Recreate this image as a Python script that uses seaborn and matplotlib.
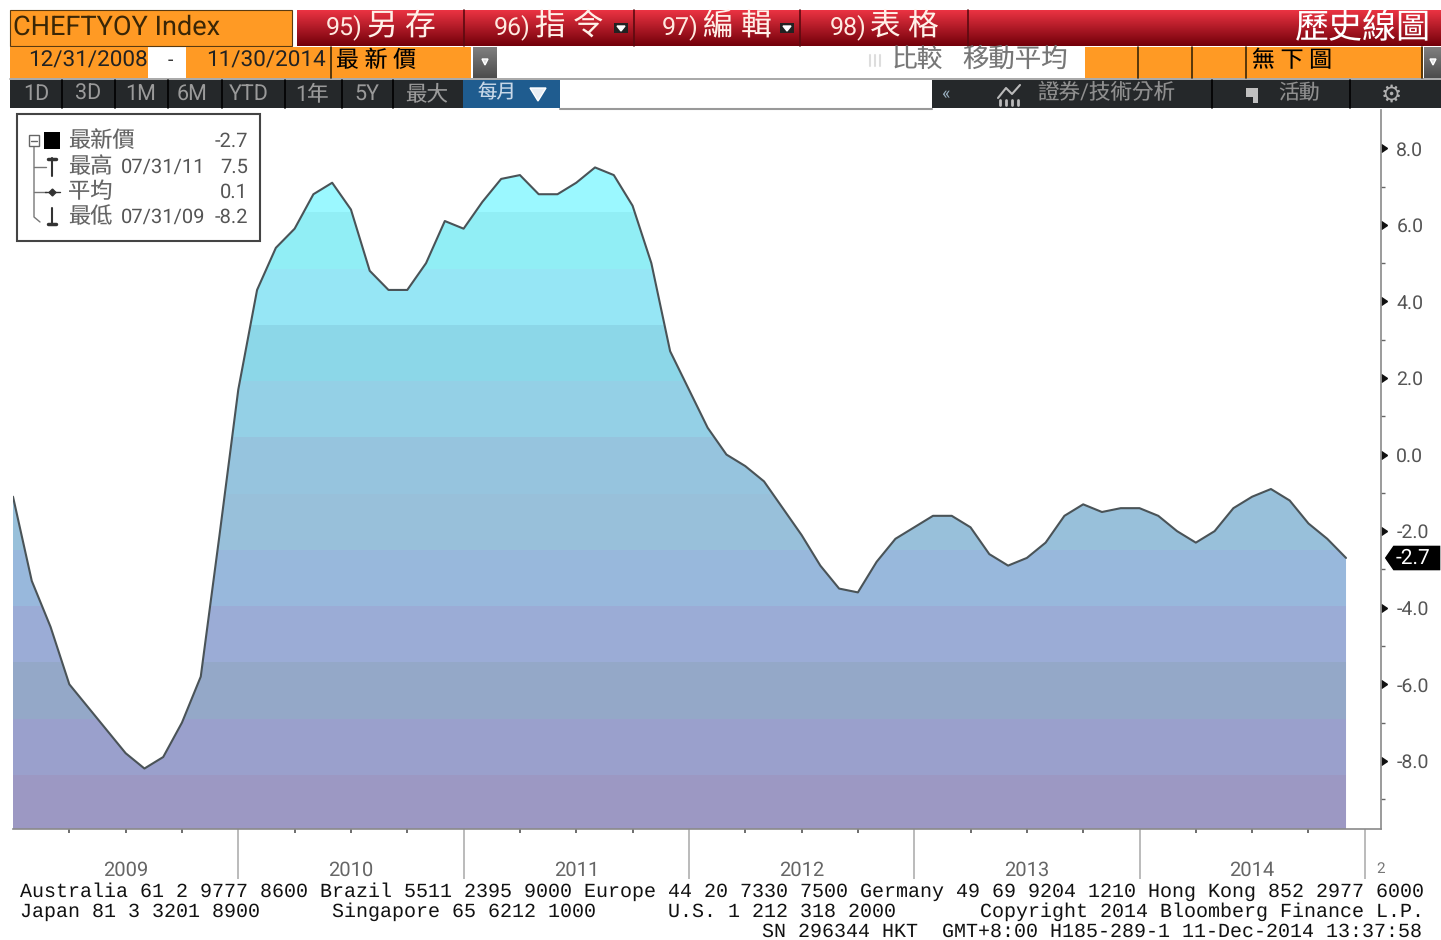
import numpy as np
import pandas as pd
import matplotlib
matplotlib.use("Agg")
import matplotlib.pyplot as plt
import seaborn as sns
from matplotlib.patches import Rectangle, Polygon

# monthly yoy values, Dec 2008 - Nov 2014
ppi_yoy = [-1.1, -3.3, -4.5, -6.0, -6.6, -7.2, -7.8, -8.2, -7.9, -7.0, -5.8, -2.1,
           1.7, 4.3, 5.4, 5.9, 6.8, 7.1, 6.4, 4.8, 4.3, 4.3, 5.0, 6.1,
           5.9, 6.6, 7.2, 7.3, 6.8, 6.8, 7.1, 7.5, 7.3, 6.5, 5.0, 2.7,
           1.7, 0.7, 0.0, -0.3, -0.7, -1.4, -2.1, -2.9, -3.5, -3.6, -2.8, -2.2,
           -1.9, -1.6, -1.6, -1.9, -2.6, -2.9, -2.7, -2.3, -1.6, -1.3, -1.5, -1.4,
           -1.4, -1.6, -2.0, -2.3, -2.0, -1.4, -1.1, -0.9, -1.2, -1.8, -2.2, -2.7]
year_labels = ["2009", "2010", "2011", "2012", "2013", "2014"]
y_labels = ["8.0", "6.0", "4.0", "2.0", "0.0", "-2.0", "-4.0", "-6.0", "-8.0"]
y_ticks = [8, 6, 4, 2, 0, -2, -4, -6, -8]
band_edges = [-9.78, -8.37, -6.90, -5.43, -3.96, -2.49, -1.02, 0.45, 1.92, 3.39, 4.86, 6.33, 9.0]
band_colors = ["#9c98c3", "#9aa0cc", "#94a8c8", "#9bacd6", "#98b8dc", "#98c0da",
               "#96c4de", "#94d0e6", "#8cd7e8", "#96e6f5", "#91eef5", "#9bf8ff"]
legend_rows = [("最新價", "", "-2.7"), ("最高", "07/31/11", "7.5"),
               ("平均", "", "0.1"), ("最低", "07/31/09", "-8.2")]
range_buttons = ["1D", "3D", "1M", "6M", "YTD", "1年", "5Y", "最大"]
footer = ["Australia 61 2 9777 8600 Brazil 5511 2395 9000 Europe 44 20 7330 7500 Germany 49 69 9204 1210 Hong Kong 852 2977 6000",
          "Japan 81 3 3201 8900      Singapore 65 6212 1000      U.S. 1 212 318 2000       Copyright 2014 Bloomberg Finance L.P.",
          "SN 296344 HKT  GMT+8:00 H185-289-1 11-Dec-2014 13:37:58"]

W, H = 1441, 940
sns.set_theme(style="white")
narrow = ["Roboto", "Noto Sans CJK TC", "DejaVu Sans"]
plt.rcParams["font.family"] = narrow
plt.rcParams["text.hinting"] = "no_hinting"

df = pd.DataFrame({"month": np.arange(len(ppi_yoy)), "value": ppi_yoy})
fig = plt.figure(figsize=(W / 100, H / 100), dpi=100)
ax = fig.add_axes([13 / W, 1 - 829 / H, (1381 - 13) / W, (829 - 110) / H])
ax.set_xlim(0, (1381 - 13) / 18.775)
ax.set_ylim(band_edges[0], band_edges[-1])

# gradient bands cut to the area under the line
area = ax.fill_between(df["month"], band_edges[0], df["value"], color="none")
clip = area.get_paths()[0]
for lo, hi, c in zip(band_edges[:-1], band_edges[1:], band_colors):
    span = ax.axhspan(lo, hi, color=c, lw=0)
    span.set_clip_path(clip, transform=ax.transData)
sns.lineplot(data=df, x="month", y="value", ax=ax, color="#4a5357", lw=1.5)
ax.set_xlabel("")
ax.set_ylabel("")

for s in ["top", "left"]:
    ax.spines[s].set_visible(False)
for s in ["right", "bottom"]:
    ax.spines[s].set_color("#8a8a8a")
    ax.spines[s].set_linewidth(1.2)

ax.yaxis.tick_right()
ax.set_yticks(y_ticks)
ax.set_yticklabels(y_labels, color="#555555", fontsize=14)
ax.set_yticks(np.arange(-9, 9, 2), minor=True)
ax.tick_params(axis="y", which="major", right=True, length=6, width=1, color="#111111", pad=5)
ax.tick_params(axis="y", which="minor", right=True, length=3, width=1, color="#666666")
for t in ax.yaxis.get_major_ticks():
    t.tick2line.set_marker(9)
    t.tick2line.set_markersize(6)

# year boundaries are the long ticks
ax.set_xticks(np.arange(12, 73, 12))
ax.set_xticklabels([])
ax.set_xticks(np.arange(0, 72, 3)[np.arange(0, 72, 3) % 12 != 0], minor=True)
ax.tick_params(axis="x", which="major", bottom=True, length=36, width=1.3, color="#b5b5b5")
ax.tick_params(axis="x", which="minor", bottom=True, length=3, width=1.2, color="#555555")

# overlay in pixel coordinates for the terminal chrome
ui = fig.add_axes([0, 0, 1, 1], facecolor="none")
ui.set_xlim(0, W)
ui.set_ylim(H, 0)
ui.axis("off")


def box(x0, y0, x1, y1, c, **kw):
    ui.add_patch(Rectangle((x0, y0), x1 - x0, y1 - y0, fc=c, ec=kw.pop("ec", "none"), **kw))


def txt(x, y, s, c="black", size=14, ha="left", fam=None, **kw):
    ui.text(x, y + 2, s, color=c, fontsize=size, ha=ha, va="center", family=fam or narrow, **kw)


def grad(x0, y0, x1, y1, top, bottom):
    g = np.linspace(0, 1, 40)[:, None, None]
    img = (1 - g) * np.array(top) + g * np.array(bottom)
    ui.imshow(img, extent=(x0, x1, y1, y0), aspect="auto", interpolation="bilinear", zorder=1)
    ui.set_xlim(0, W)
    ui.set_ylim(H, 0)


ORANGE = "#ff9a24"
DARK = "#25282a"

# row 1
box(10, 10, 292, 46, ORANGE, ec="#5a3a10", lw=0.8, zorder=2)
txt(13, 25, "CHEFTYOY Index", "#3a2606", 19.5, zorder=3)
grad(297, 10, W, 46, (0.92, 0.2, 0.26), (0.45, 0.0, 0.04))
for x in [464, 634, 800, 968]:
    ui.plot([x, x], [10, 46], color="#5c0a10", lw=1.2, zorder=3)
for x, n, x2, s in [(326, "95)", 367, "另 存"), (494, "96)", 535, "指 令"),
                    (662, "97)", 703, "編 輯"), (830, "98)", 870, "表 格")]:
    txt(x, 25, n, "#ffe9e0", 18, zorder=4)
    txt(x2, 25, s, "#fff0e8", 22, zorder=4)
for x in [621, 787]:
    box(x - 7, 23, x + 7, 33, "#222222", zorder=4)
    ui.add_patch(Polygon([(x - 4, 26), (x + 4, 26), (x, 31)], fc="white", zorder=5))
txt(1431, 27, "歷史線圖", "white", 24.5, ha="right", zorder=4)

# row 2
box(10, 47, 148, 78, ORANGE, zorder=2)
box(186, 47, 471, 78, ORANGE, zorder=2)
box(1085, 47, 1423, 78, ORANGE, zorder=2)
ui.plot([331, 331], [47, 78], color="#3a2606", lw=1.2, zorder=3)
txt(28, 59, "12/31/2008", "#222222", 16.2, zorder=3)
txt(170, 59, "-", "#333333", 14, ha="center", zorder=3)
txt(206, 59, "11/30/2014", "#222222", 16.2, zorder=3)
txt(336, 59, "最 新 價", "black", 16.5, zorder=3)
grad(473, 47, 497, 78, (0.5, 0.5, 0.5), (0.3, 0.3, 0.3))
grad(1424, 47, W, 78, (0.5, 0.5, 0.5), (0.3, 0.3, 0.3))
for x in [870, 875, 880]:
    ui.plot([x, x], [55, 66], color="#dddddd", lw=1.5, zorder=3)
txt(892, 58, "比較", "#777777", 18.5, zorder=3)
txt(962, 58, "移動平均", "#777777", 19, zorder=3)
for x in [1138, 1192, 1246, 1422]:
    ui.plot([x, x], [47, 78], color="#3a2606", lw=1.2, zorder=3)
txt(1252, 59, "無 下 圖", "black", 16.5, zorder=3)
for x in [485, 1433]:
    ui.add_patch(Polygon([(x - 3, 59), (x + 3, 59), (x, 65)], fc="#dddddd", zorder=4))

# row 3
box(10, 80, 463, 108, DARK, zorder=2)
box(463, 80, 560, 108, "#1f5c8f", zorder=2)
box(932, 80, W, 108, DARK, zorder=2)
ui.plot([10, W], [79, 79], color="#999999", lw=1.2, zorder=1)
ui.plot([560, 932], [108.5, 108.5], color="#999999", lw=1.5, zorder=1)
for x in [62, 115, 168, 222, 285, 342, 393, 1212, 1350]:
    ui.plot([x, x], [80, 108], color="black", lw=1.2, zorder=3)
for x, s in zip([36, 88, 141, 192, 249, 312, 367, 427], range_buttons):
    txt(x, 92, s, "#9a9a9a", 15.5, ha="center", zorder=3)
txt(477, 91, "每月", "#c8d8e8", 14, zorder=3)
ui.add_patch(Polygon([(530, 88), (546, 88), (538, 101)], fc="#e8eef4", zorder=3))
txt(945, 92, "«", "#9ab0c0", 13, ha="center", zorder=3)
ui.plot([998, 1006, 1012, 1020], [98, 88, 94, 85], color="#bbbbbb", lw=1.5, zorder=3)
for x in [1000, 1006, 1012, 1018]:
    ui.plot([x, x], [100, 105], color="#bbbbbb", lw=2, zorder=3)
txt(1037, 91, "證券/技術分析", "#8f8f8f", 15.5, zorder=3)
box(1246, 88, 1258, 97, "#c0c0c0", zorder=3)
box(1253, 97, 1258, 103, "#c0c0c0", zorder=3)
txt(1278, 91, "活動", "#8f8f8f", 15, zorder=3)
txt(1391, 93, "⚙", "#b0b0b0", 17, ha="center", fam="DejaVu Sans", zorder=3)

# legend box
box(17, 114, 260, 241, "white", ec="#444444", lw=1.5, zorder=5)
for (name, date, val), y in zip(legend_rows, [139, 165, 190, 215]):
    txt(68, y, name, "#666666", 16, zorder=6)
    if date:
        txt(121, y, date, "#555555", 14.5, zorder=6)
    txt(248, y, val, "#555555", 14.5, ha="right", zorder=6)
ui.plot([34, 34, 40], [146, 217, 222], color="#777777", lw=1, zorder=6)
for y in [167, 192]:
    ui.plot([34, 46], [y, y], color="#777777", lw=1, zorder=6)
box(29, 135, 39, 146, "white", ec="#666666", lw=1, zorder=7)
ui.plot([31, 37], [140.5, 140.5], color="#666666", lw=1, zorder=8)
box(44, 132, 60, 149, "black", zorder=6)
ui.plot([52, 52], [158, 176], color="#333333", lw=1.5, zorder=6)
ui.plot([48, 56], [159, 159], color="#333333", lw=2.5, zorder=6)
ui.plot([45, 60], [192, 192], color="#333333", lw=1, zorder=6)
ui.plot([52], [192], marker="D", ms=3.5, color="#333333", zorder=6)
ui.plot([52, 52], [208, 225], color="#333333", lw=1.5, zorder=6)
ui.plot([48, 56], [224, 224], color="#333333", lw=2.5, zorder=6)

# last value tag
ui.add_patch(Polygon([(1384, 558), (1393, 545), (W, 545), (W, 571), (1393, 571)], fc="black", zorder=6))
txt(1396, 556, "-2.7", "white", 15, zorder=7)

# year names and footer
for i, s in enumerate(year_labels):
    txt(ax.transData.transform((6 + 12 * i, 0))[0], 868, s, "#666666", 14.5, ha="center")
txt(1376, 867, "2", "#777777", 11)
txt(20, 890, footer[0], "#111111", 14.39, fam="Liberation Mono")
txt(20, 910, footer[1], "#111111", 14.39, fam="Liberation Mono")
txt(1422, 930, footer[2], "#111111", 14.39, ha="right", fam="Liberation Mono")

fig.savefig("out.png", dpi=100)
